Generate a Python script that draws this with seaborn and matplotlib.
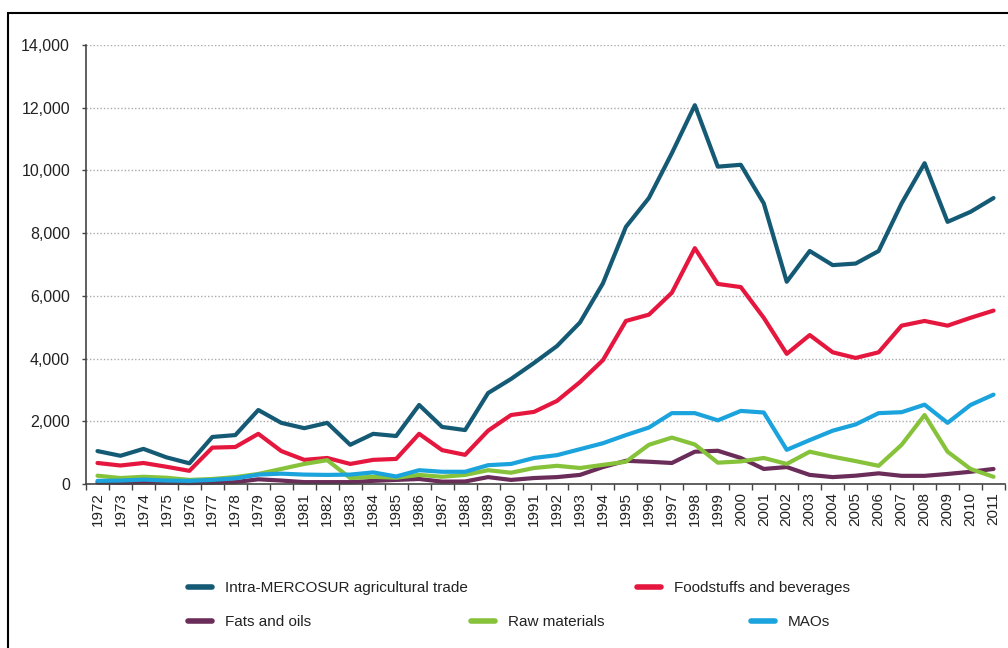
import numpy as np
import pandas as pd
import matplotlib
matplotlib.use("Agg")
import matplotlib.pyplot as plt
from matplotlib.lines import Line2D
from matplotlib.patches import Rectangle
from matplotlib.ticker import FuncFormatter, MultipleLocator
import seaborn as sns

years = list(range(1972, 2012))

intra = [1050, 900, 1120, 850, 660, 1500, 1560, 2360, 1950, 1780, 1950, 1250, 1600, 1530, 2520, 1820,
         1720, 2900, 3350, 3860, 4400, 5150, 6400, 8200, 9120, 10550, 12080, 10120, 10180, 8950,
         6450, 7430, 6980, 7030, 7430, 8950, 10230, 8360, 8680, 9120]
foodstuffs = [670, 590, 670, 550, 420, 1160, 1180, 1600, 1050, 770, 830, 640, 770, 800, 1600, 1080,
              930, 1700, 2200, 2300, 2650, 3250, 3950, 5200, 5400, 6100, 7520, 6380, 6280, 5300,
              4150, 4750, 4200, 4020, 4200, 5050, 5200, 5050, 5300, 5530]
fats = [50, 40, 50, 40, 30, 40, 60, 150, 110, 60, 60, 60, 100, 130, 160, 75,
        80, 220, 130, 190, 220, 290, 540, 740, 710, 670, 1030, 1060, 830, 480,
        540, 290, 220, 265, 340, 260, 260, 320, 390, 480]
raw = [265, 190, 230, 200, 130, 160, 220, 320, 480, 640, 760, 190, 230, 200, 290, 230,
       290, 440, 360, 510, 580, 510, 610, 710, 1250, 1480, 1260, 680, 720, 830,
       640, 1030, 870, 730, 580, 1250, 2200, 1030, 480, 230]
maos = [100, 110, 140, 110, 100, 130, 180, 300, 330, 300, 290, 300, 370, 240, 440, 390,
        390, 600, 640, 830, 920, 1110, 1300, 1560, 1800, 2260, 2260, 2030, 2330, 2280,
        1090, 1400, 1700, 1900, 2260, 2290, 2530, 1950, 2520, 2850]

labels = ["Intra-MERCOSUR agricultural trade", "Foodstuffs and beverages",
          "Fats and oils", "Raw materials", "MAOs"]
colors = ["#155a75", "#e5173e", "#6a2c59", "#86c23a", "#1aa3dc"]

df = pd.DataFrame({"year": years, labels[0]: intra, labels[1]: foodstuffs,
                   labels[2]: fats, labels[3]: raw, labels[4]: maos})
long = df.melt(id_vars="year", var_name="series", value_name="value")

sns.set_style("white")
plt.rcParams["font.family"] = ["Liberation Sans", "DejaVu Sans"]

fig = plt.figure(figsize=(10.08, 6.48), dpi=100)
ax = fig.add_axes([86 / 1008, 1 - 484 / 648, (1005 - 86) / 1008, (484 - 45) / 648])

sns.lineplot(data=long, x="year", y="value", hue="series", hue_order=labels,
             palette=colors, linewidth=3, legend=False, ax=ax, clip_on=False)

ax.set_xlim(1971.5, 2011.5)
ax.set_ylim(0, 14000)
ax.yaxis.set_major_locator(MultipleLocator(2000))
ax.yaxis.set_major_formatter(FuncFormatter(lambda v, p: f"{int(v):,}"))
ax.set_xticks(years)
ax.set_xticklabels([str(y) for y in years], rotation=90)
ax.set_xticks(np.arange(1971.5, 2012, 1), minor=True)
ax.tick_params(axis="x", which="major", length=0, pad=6, labelsize=11, colors="#222222")
ax.tick_params(axis="x", which="minor", length=4, width=1, color="#444444", direction="out", bottom=True)
ax.tick_params(axis="y", length=3, width=1, color="#444444", direction="out", left=True,
               pad=8.5, labelsize=11.5, labelcolor="#222222")
ax.grid(axis="y", linestyle=(0, (1, 1.5)), color="#aaaaaa", linewidth=1)
ax.set_axisbelow(True)
ax.set_xlabel("")
ax.set_ylabel("")
for s in ["top", "right"]:
    ax.spines[s].set_visible(False)
for s in ["left", "bottom"]:
    ax.spines[s].set_color("#444444")
    ax.spines[s].set_linewidth(1.2)

# legend entries placed like the original two-row layout
pos = [(188, 588), (637, 588), (188, 622), (471, 622), (751, 622)]
for lab, col, (px, py) in zip(labels, colors, pos):
    h = Line2D([], [], color=col, linewidth=4, solid_capstyle="round")
    leg = fig.legend([h], [lab], loc="center left", bbox_to_anchor=(px / 1008, 1 - py / 648),
                     frameon=False, handlelength=1.6, handletextpad=0.8, fontsize=11,
                     borderpad=0, borderaxespad=0)
    for t in leg.get_texts():
        t.set_color("#222222")

fig.patches.append(Rectangle((8 / 1008, -0.1), 1.2, 1.1 - 13 / 648, transform=fig.transFigure,
                             fill=False, edgecolor="black", linewidth=1.5))

fig.savefig("out.png", dpi=100)
